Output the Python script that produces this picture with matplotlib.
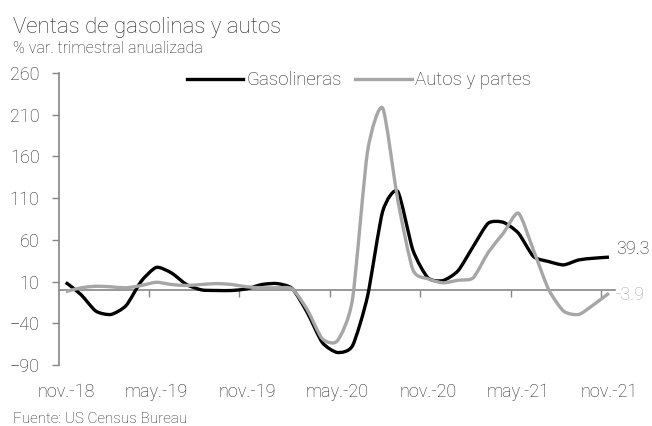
import numpy as np
import matplotlib.pyplot as plt
from matplotlib.path import Path
from matplotlib.patches import PathPatch
from matplotlib.lines import Line2D

plt.rcParams['font.family'] = ['Roboto', 'DejaVu Sans']
plt.rcParams['font.weight'] = 'light'

# Monthly data, nov-18 .. nov-21 (% var. trimestral anualizada)
months = [
    "nov.-18", "dic.-18", "ene.-19", "feb.-19", "mar.-19", "abr.-19",
    "may.-19", "jun.-19", "jul.-19", "ago.-19", "sep.-19", "oct.-19",
    "nov.-19", "dic.-19", "ene.-20", "feb.-20", "mar.-20", "abr.-20",
    "may.-20", "jun.-20", "jul.-20", "ago.-20", "sep.-20", "oct.-20",
    "nov.-20", "dic.-20", "ene.-21", "feb.-21", "mar.-21", "abr.-21",
    "may.-21", "jun.-21", "jul.-21", "ago.-21", "sep.-21", "oct.-21",
    "nov.-21",
]
gasolineras = [
    9, -5.5, -25.5, -29.4, -18.7, 10.4,
    27, 20.4, 6.5, 0, -0.7, -0.7,
    1.3, 6.5, 7.6, 1.7, -27, -63,
    -75, -67, -7.5, 94, 118, 48,
    14.5, 11.2, 23, 52, 80, 81,
    68, 40, 34, 30, 36, 38,
    39.3,
]
autos = [
    -2, 2.5, 4.4, 3.7, 2.5, 5.3,
    9.2, 6.5, 5.3, 6.5, 7.6, 6.5,
    3.7, 2.5, 2.5, 1.3, -23.5, -58.5,
    -61, -11.5, 166, 218, 108, 24.4,
    13.3, 8.5, 11.6, 14.5, 45, 68,
    92, 47.5, 0.5, -25.5, -29.4, -17.5,
    -3.9,
]
tick_labels = ["nov.-18", "may.-19", "nov.-19", "may.-20", "nov.-20", "may.-21", "nov.-21"]
y_ticks = list(range(-90, 261, 50))

BLACK = "#000000"
GRAY = "#a6a6a6"
AXIS = "#868686"
TEXT = "#262626"


def smooth_path(x, y, k=1 / 9):
    """Bezier path through the points (lightly smoothed line)."""
    pts = np.column_stack([x, y]).astype(float)
    n = len(pts)
    verts = [pts[0]]
    codes = [Path.MOVETO]
    for i in range(n - 1):
        p0 = pts[max(i - 1, 0)]
        p1 = pts[i]
        p2 = pts[i + 1]
        p3 = pts[min(i + 2, n - 1)]
        verts += [p1 + (p2 - p0) * k, p2 - (p3 - p1) * k, p2]
        codes += [Path.CURVE4] * 3
    return Path(verts, codes)


fig = plt.figure(figsize=(6.52, 4.26), dpi=100)
ax = fig.add_axes([59 / 652, 1 - 365 / 426, (615 - 59) / 652, (365 - 73) / 426])

x = np.arange(len(months))
for series, color in [(gasolineras, BLACK), (autos, GRAY)]:
    ax.add_patch(PathPatch(smooth_path(x, series), fill=False, edgecolor=color,
                           lw=2.4, joinstyle="round", capstyle="butt", zorder=3))

ax.set_xlim(-0.45, len(months) - 0.6)
ax.set_ylim(-90, 260)

# y axis
ax.set_yticks(y_ticks)
ax.tick_params(axis="y", direction="out", length=5, width=1, color=AXIS,
               labelsize=13, labelcolor=TEXT, pad=9)
for side in ["top", "right", "bottom"]:
    ax.spines[side].set_visible(False)
ax.spines["left"].set_color(AXIS)
ax.spines["left"].set_linewidth(1.2)

# category labels at the bottom
label_pos = [i for i, m in enumerate(months) if m in tick_labels]
ax.set_xticks(label_pos)
ax.set_xticklabels(tick_labels)
ax.tick_params(axis="x", length=0, labelsize=13, labelcolor=TEXT, pad=13)

# zero axis with tick marks between categories
zero_frac = (0 - (-90)) / (260 - (-90))
zax = ax.secondary_xaxis(zero_frac)
zax.set_xticks([p - 0.5 for p in label_pos])
zax.set_xticklabels([])
zax.tick_params(direction="out", length=5, width=1, color=AXIS)
zax.spines["bottom"].set_color(AXIS)
zax.spines["bottom"].set_linewidth(1.2)

# end labels
ax.annotate(f"{gasolineras[-1]:.1f}", xy=(x[-1], gasolineras[-1]), xytext=(5, 6),
            textcoords="offset points", fontsize=13, color=TEXT, va="center")
ax.annotate(f"{autos[-1]:.1f}", xy=(x[-1], autos[-1]), xytext=(5, -1),
            textcoords="offset points", fontsize=13, color=GRAY, va="center")

handles = [Line2D([], [], color=BLACK, lw=2.4), Line2D([], [], color=GRAY, lw=2.4)]
ax.legend(handles, ["Gasolineras", "Autos y partes"], loc="center", ncol=2,
          bbox_to_anchor=(0.54, 0.975), frameon=False, fontsize=13.5,
          handlelength=3.0, handletextpad=0.2, columnspacing=0.7,
          labelcolor=TEXT)

fig.text(13 / 652, 1 - 33 / 426, "Ventas de gasolinas y autos", fontsize=16,
         color=TEXT, va="baseline", ha="left")
fig.text(13 / 652, 1 - 53 / 426, "% var. trimestral anualizada", fontsize=11.5,
         color=TEXT, va="baseline", ha="left")
fig.text(13 / 652, 1 - 423 / 426, "Fuente: US Census Bureau", fontsize=11,
         color=TEXT, va="baseline", ha="left")

fig.savefig("out.png", dpi=100)
